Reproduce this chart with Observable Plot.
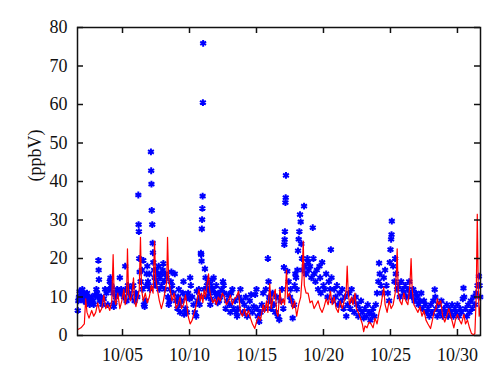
<!DOCTYPE html>
<html>
<head>
<meta charset="utf-8">
<script src="https://cdn.jsdelivr.net/npm/d3@7"></script>
<script src="https://cdn.jsdelivr.net/npm/@observablehq/plot@0.6"></script>
<style>
  html, body { margin: 0; padding: 0; background: #fff; }
  #chart svg { display: block; }
</style>
</head>
<body>
<div id="chart"></div>
<script>
// Day-of-October (fractional) and value pairs
const modelSeries = [
[1.64,1.5],[1.9,2.0],[2.15,3.0],[2.25,9.5],[2.35,6],[2.5,4.5],[2.7,6.5],[2.85,5],[3.0,6],[3.15,8.5],[3.3,6],[3.45,7],[3.6,10.5],[3.75,7],[3.9,8],
[4.05,6.5],[4.2,9],[4.3,21],[4.38,10],[4.5,8],[4.65,11],[4.8,7],[4.95,9],[5.1,12],[5.2,8],[5.3,10],[5.37,22.5],[5.45,11],[5.6,9],[5.72,11],[5.82,15],[5.9,9],
[6.0,7.5],[6.15,10],[6.25,12],[6.34,25.5],[6.42,12],[6.55,9],[6.7,11],[6.85,8.5],[7.0,10],[7.15,13],[7.28,11],[7.39,24.5],[7.47,15],[7.6,12],[7.75,9],[7.9,7],
[8.05,9],[8.2,12],[8.3,14],[8.36,25.5],[8.44,15],[8.55,12],[8.7,9],[8.85,11],[9.0,7],[9.15,8],[9.3,10],[9.4,7],[9.55,8],[9.7,10.5],[9.8,8],[9.9,5],
[10.05,3],[10.2,4],[10.35,6],[10.45,7],[10.6,10],[10.7,12],[10.8,9],[10.9,11],[11.0,8.5],[11.1,12],[11.2,10],[11.3,13],[11.42,16],[11.5,12],[11.6,10],[11.75,8.5],[11.9,9.5],
[12.0,8],[12.15,10],[12.3,9],[12.45,11],[12.6,10],[12.75,8],[12.9,9],[13.05,10.5],[13.2,8],[13.35,9.5],[13.5,10],[13.66,11.5],[13.8,6],[13.95,5],
[14.1,7],[14.25,5],[14.4,6.5],[14.55,4.5],[14.7,3],[14.87,1.8],[15.0,3.5],[15.15,5],[15.3,4],[15.5,8],[15.6,6],[15.75,9],[15.85,6],[15.99,13.5],
[16.1,7],[16.25,10],[16.4,12],[16.5,6],[16.6,5],[16.75,12],[16.85,8],[17.0,9.5],[17.1,8],[17.24,17],[17.32,10],[17.45,11],[17.6,9],[17.7,7],[17.85,9],
[18.0,5],[18.15,8],[18.3,10],[18.4,15],[18.49,24.5],[18.57,13],[18.7,11],[18.85,11],[19.0,8.5],[19.15,9],[19.3,7],[19.45,8],[19.6,9],[19.75,7],[19.9,6],
[20.05,7.5],[20.2,9.5],[20.35,8],[20.52,11.5],[20.65,8],[20.8,10],[20.95,7],[21.1,6],[21.25,9],[21.4,7],[21.55,9],[21.7,12],[21.77,18],[21.85,11],[21.95,8],
[22.1,10],[22.2,8],[22.35,11],[22.45,7],[22.6,6],[22.75,4.5],[22.9,3],[23.0,1],[23.1,2.5],[23.25,2],[23.4,3.5],[23.55,3],[23.7,2],[23.85,4.5],
[24.0,3],[24.15,6],[24.3,8],[24.5,12.5],[24.6,8],[24.75,6],[24.9,9],[25.05,7],[25.2,8],[25.35,11],[25.45,17],[25.5,22.5],[25.58,11],[25.7,9],[25.85,8],
[26.0,11],[26.15,9],[26.3,8],[26.45,13],[26.54,20],[26.62,12],[26.75,8],[26.9,7],[27.05,6],[27.2,7.5],[27.35,5],[27.5,6.5],[27.65,4],[27.8,3],[27.99,1.8],
[28.1,3.5],[28.25,6],[28.4,7],[28.5,9.5],[28.6,8],[28.75,9],[28.9,5],[29.05,3.5],[29.2,5],[29.35,7],[29.5,5],[29.62,3.5],[29.73,2],[29.85,4],
[30.0,5.5],[30.15,4],[30.3,3],[30.48,5.5],[30.6,3],[30.75,4],[30.9,2],[31.05,0.5],[31.2,0.2],[31.3,0.5],[31.4,10],[31.48,31.5],[31.55,13],[31.62,5],[31.72,8]
];

const observedSeries = [
[1.66,6.5],[1.7,9],[1.75,10],[1.8,11.5],[1.85,9.5],[1.9,10],[1.95,11],[2.0,12],[2.05,10.5],[2.1,9],[2.15,11],[2.2,10],[2.3,8.5],[2.35,11],[2.4,9.5],[2.45,10],
[2.55,8],[2.6,9],[2.7,10],[2.8,9],[2.85,8],[2.95,10.5],[3.05,12],[3.1,11],[3.15,10],[3.2,19.5],[3.22,17],[3.24,14.5],[3.3,9],[3.4,10],[3.5,8],[3.6,9.5],[3.7,12],[3.8,11],[3.9,8],
[4.0,12],[4.05,14],[4.1,15],[4.15,13],[4.2,12.5],[4.3,11],[4.35,7.5],[4.4,8.5],[4.5,10],[4.6,12],[4.7,11],[4.8,15],[4.85,11],[4.9,12],
[5.0,11],[5.1,10],[5.2,18],[5.25,12],[5.3,9],[5.4,13],[5.5,11],[5.6,10],[5.7,12.5],[5.8,13],[5.9,9],
[6.0,11],[6.1,10],[6.18,36.5],[6.2,28.8],[6.22,27],[6.25,20],[6.28,16.5],[6.35,14],[6.45,17],[6.5,12],[6.55,19.5],[6.6,8],[6.65,7.5],[6.7,9],[6.75,13],[6.8,16],[6.85,18],[6.9,14],[6.95,13],
[7.0,16],[7.05,12],[7.12,47.7],[7.14,42.8],[7.16,39.3],[7.18,32.5],[7.22,28.8],[7.25,24],[7.27,21.5],[7.3,19],[7.35,17],[7.4,15],[7.45,13],[7.5,17],[7.55,14],[7.6,16],[7.7,18],[7.75,12],[7.8,15],[7.85,16],[7.9,13],
[8.0,17],[8.05,18.7],[8.1,14],[8.15,12],[8.2,16],[8.3,15],[8.4,10],[8.45,8],[8.5,9],[8.55,12],[8.6,14],[8.65,16.5],[8.7,13],[8.8,11],[8.9,16],
[9.0,9],[9.1,7],[9.15,10],[9.2,12],[9.25,8],[9.3,6],[9.4,9],[9.5,11],[9.55,14],[9.6,5.5],[9.7,7],[9.75,10],[9.8,6],[9.9,11],
[10.0,9.5],[10.05,15],[10.1,13],[10.2,10],[10.3,8],[10.4,6],[10.5,5],[10.55,11.5],[10.6,9],[10.7,12],[10.75,8],[10.8,10],
[10.85,21.4],[10.87,21],[10.9,19.3],[10.92,27.7],[10.94,30.1],[10.96,33],[10.98,36.2],[11.0,60.5],[11.02,75.9],
[11.1,12],[11.15,17.3],[11.2,15],[11.25,10],[11.3,13],[11.4,14],[11.45,12],[11.5,11],[11.55,8],[11.6,9.5],[11.65,13],[11.7,14.5],[11.75,12],[11.8,15],[11.9,11],
[12.0,13],[12.05,10],[12.1,8.5],[12.15,11],[12.2,9],[12.3,10],[12.4,12],[12.5,14],[12.55,13],[12.6,11],[12.7,7],[12.8,9],[12.9,10.5],
[13.0,8],[13.05,6],[13.1,11],[13.2,12],[13.3,7],[13.4,9],[13.5,6],[13.55,5],[13.6,7],[13.7,10],[13.8,12],[13.9,9],
[14.0,6],[14.1,8],[14.2,10],[14.3,5],[14.4,7],[14.5,9],[14.6,10.6],[14.7,6],[14.8,7.5],[14.9,10.6],
[15.0,12],[15.05,7],[15.1,5],[15.2,3.6],[15.3,6],[15.4,8],[15.5,11],[15.6,7],[15.7,12],[15.85,20],[15.9,14],[15.95,10],
[16.0,9],[16.1,7],[16.2,11],[16.3,8],[16.4,6],[16.5,10],[16.6,5],[16.7,4.1],[16.8,9],[16.9,12],
[17.0,7],[17.05,17.7],[17.08,23.6],[17.1,24.9],[17.12,27],[17.16,34.5],[17.18,35.8],[17.2,41.6],[17.3,16.7],[17.4,14],[17.5,10],[17.55,12],[17.6,9],[17.7,4.5],[17.8,8],[17.85,13],[17.9,16],[17.95,15],
[18.0,12],[18.05,17],[18.1,22],[18.15,25],[18.2,27],[18.25,31.4],[18.3,29.5],[18.35,23.8],[18.4,20],[18.45,17],[18.55,33.6],[18.6,18],[18.7,16],[18.8,20],[18.85,19],[18.9,17],
[19.0,18],[19.1,15],[19.2,28],[19.25,20],[19.3,16],[19.4,14],[19.5,17],[19.6,12],[19.7,18],[19.75,15],[19.8,11],[19.9,19],
[20.0,13],[20.1,12],[20.2,16],[20.3,10],[20.4,14],[20.5,12],[20.55,22.3],[20.6,15],[20.7,9],[20.8,12],[20.9,10],
[21.0,13],[21.1,8],[21.2,11],[21.3,9],[21.4,12],[21.5,7],[21.6,10],[21.7,5],[21.8,8],[21.9,11],
[22.0,7],[22.1,12],[22.2,9],[22.3,6],[22.4,10],[22.5,8],[22.6,5],[22.7,7],[22.8,9],[22.9,6],
[23.0,4.5],[23.1,7],[23.2,5],[23.3,8],[23.4,6],[23.5,4],[23.6,5.5],[23.7,7],[23.8,5],[23.9,8],
[24.0,11],[24.1,14],[24.15,18.8],[24.2,16],[24.3,13],[24.4,11],[24.5,15],[24.6,17],[24.7,13],[24.8,11],[24.9,9],[24.95,19],
[25.0,22.3],[25.05,25],[25.08,26.2],[25.1,29.7],[25.2,18],[25.3,14],[25.35,20],[25.4,16],[25.5,12],[25.6,13],[25.7,10],[25.8,14],[25.9,12],
[26.0,11],[26.1,13],[26.2,10],[26.3,12],[26.4,14],[26.5,11],[26.6,10],[26.7,12],[26.8,9],[26.9,11],
[27.0,10],[27.1,8],[27.2,9],[27.3,11],[27.4,7],[27.5,9],[27.6,8],[27.7,6],[27.8,7],[27.9,5],
[28.0,8],[28.1,6],[28.2,9],[28.3,11.9],[28.35,10],[28.4,7],[28.5,5],[28.6,8],[28.7,6],[28.8,9],[28.9,5],
[29.0,7],[29.1,6],[29.2,8],[29.3,5],[29.4,7],[29.5,6],[29.6,8],[29.7,5],[29.8,7],[29.9,6],
[30.0,8],[30.1,5],[30.2,7],[30.3,6],[30.4,9.5],[30.45,12.3],[30.5,10],[30.6,7],[30.7,5],[30.8,8],[30.9,6],
[31.0,9],[31.1,7],[31.2,10],[31.3,8],[31.4,11],[31.5,13],[31.6,15.4],[31.65,13],[31.7,10]
];

const yTicks = [0, 10, 20, 30, 40, 50, 60, 70, 80];
const xTickDays = [5, 10, 15, 20, 25, 30];
const xDomainDays = [1.64, 31.72];
const yDomain = [0, 80];

const toDate = d => new Date(Date.UTC(2012, 9, 1) + (d - 1) * 864e5);
const model = modelSeries.map(([d, v]) => ({t: toDate(d), v}));
const obs = observedSeries.map(([d, v]) => ({t: toDate(d), v}));
const xTicks = xTickDays.map(toDate);
const fmt = d3.utcFormat("%m/%d");

const W = 500, H = 383, ML = 77, MR = 20, MT = 27, MB = 48;
const innerW = W - ML - MR, innerH = H - MT - MB, TICK = 6;
const font = "'Liberation Serif', 'Times New Roman', serif";

const chart = Plot.plot({
  width: W,
  height: H,
  marginLeft: ML,
  marginRight: MR,
  marginTop: MT,
  marginBottom: MB,
  style: {fontFamily: font, fontSize: "18px", background: "#fff", color: "#111"},
  x: {type: "utc", domain: xDomainDays.map(toDate)},
  y: {domain: yDomain},
  marks: [
    Plot.dot(obs, {x: "t", y: "v", symbol: "asterisk", r: 3.2, stroke: "#0000ff", strokeWidth: 2}),
    Plot.line(model, {x: "t", y: "v", stroke: "#ff0000", strokeWidth: 1.2, clip: true}),
    Plot.frame({stroke: "#111", strokeWidth: 1.5}),
    // inward tick marks on all four sides
    Plot.tickY(yTicks, {y: d => d, insetRight: innerW - TICK, stroke: "#111", strokeWidth: 1.5}),
    Plot.tickY(yTicks, {y: d => d, insetLeft: innerW - TICK, stroke: "#111", strokeWidth: 1.5}),
    Plot.tickX(xTicks, {x: d => d, insetTop: innerH - TICK, stroke: "#111", strokeWidth: 1.5}),
    Plot.tickX(xTicks, {x: d => d, insetBottom: innerH - TICK, stroke: "#111", strokeWidth: 1.5}),
    Plot.axisY({anchor: "left", ticks: yTicks, tickSize: 0, tickPadding: 10, label: null, fontSize: 18}),
    Plot.axisX({anchor: "bottom", ticks: xTicks, tickSize: 0, tickPadding: 13, tickFormat: fmt, label: null, fontSize: 18}),
    Plot.text(["(ppbV)"], {frameAnchor: "left", dx: -42, rotate: -90, fontSize: 18, fill: "#111"})
  ]
});
document.getElementById("chart").appendChild(chart);
</script>
</body>
</html>
